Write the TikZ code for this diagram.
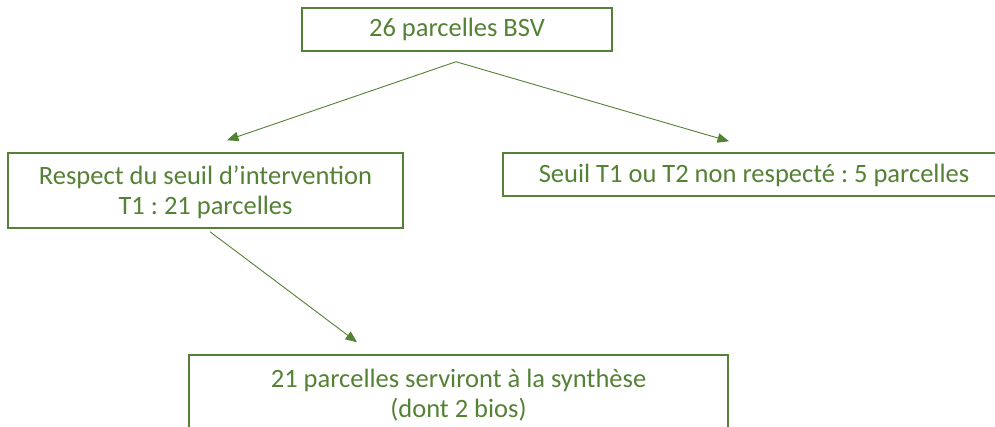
\documentclass[tikz,border=0pt]{standalone}
\usepackage{fontspec}
\setmainfont{Carlito}
\usetikzlibrary{arrows.meta,calc}
\definecolor{grn}{HTML}{548235}
\frenchspacing
\newcommand{\topstrut}[1]{\rule{0pt}{#1}}
\newcommand{\botstrut}[1]{\rule[-#1]{0pt}{#1}}
\begin{document}
\begin{tikzpicture}[x=1pt,y=-1pt,
  box/.style={draw=grn,line width=1.5pt,text=grn,inner sep=0pt,align=center,
    font=\fontsize{26.5}{30}\selectfont\frenchspacing},
  conn/.style={draw=grn,line width=0.9pt,-{Triangle[length=11.5pt,width=9.5pt]}}]
\clip (0,0) rectangle (995,427);
\fill[white] (0,0) rectangle (995,427);
\node[box,minimum width=310pt,minimum height=43pt] (top) at (457,29.5)
  {\topstrut{21pt}26 parcelles BSV\botstrut{6pt}};
\node[box,minimum width=395pt,minimum height=75pt] (left) at (205.5,190.5)
  {\topstrut{29pt}Respect du seuil d’intervention\\T1 : 21 parcelles\botstrut{10pt}};
\node[box,minimum width=502pt,minimum height=43pt] (right) at (754,174.5)
  {\topstrut{23pt}Seuil T1 ou T2 non respecté : 5 parcelles\botstrut{6pt}};
\node[box,minimum width=539pt,minimum height=100pt] (bottom) at (458.5,405)
  {\topstrut{25pt}21 parcelles serviront à la synthèse\\(dont 2 bios)\botstrut{31pt}};
\coordinate (apex) at ($(top.south)+(-1,10)$);
\draw[conn] (apex) -- ($(left.north)+(21.5,-12)$);
\draw[conn] (apex) -- ($(right.north)+(-25,-11)$);
\draw[conn] ($(left.south)+(4.5,3)$) -- ($(bottom.north)+(-101.5,-12)$);
\end{tikzpicture}
\end{document}
